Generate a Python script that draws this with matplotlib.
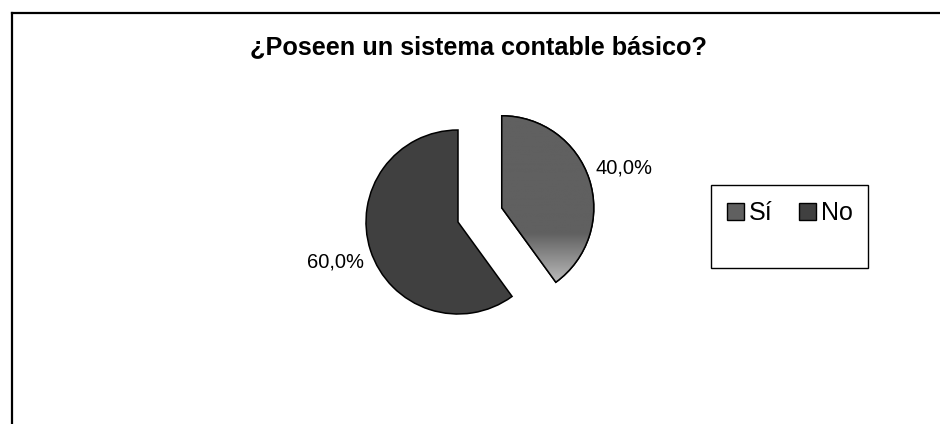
import numpy as np
import matplotlib
matplotlib.use("Agg")
import matplotlib.pyplot as plt
from matplotlib.colors import LinearSegmentedColormap
from matplotlib.lines import Line2D
from matplotlib.patches import Rectangle, Wedge

plt.rcParams['font.family'] = ['Liberation Sans', 'DejaVu Sans']

# Data
title = "¿Poseen un sistema contable básico?"
categories = ["Sí", "No"]
values = [40.0, 60.0]
colors = ["#606060", "#404040"]

W, H = 940, 424
fig = plt.figure(figsize=(W / 100, H / 100), dpi=100)
fig.patch.set_facecolor("white")

# Overlay axes in pixel coordinates (y grows downward)
ov = fig.add_axes([0, 0, 1, 1])
ov.set_xlim(0, W)
ov.set_ylim(H, 0)
ov.axis("off")

# Pie axes: unit radius, scaled to pixels
cx, cy, r = 458, 222, 92
ax = fig.add_axes([0, 0, 1, 1])

wedges, texts, autotexts = ax.pie(
    values, colors=colors, startangle=90, counterclock=False,
    explode=[0.5, 0.0], radius=1.0, center=(0, 0), frame=False,
    autopct=lambda p: f"{p:.1f}%".replace(".", ","), pctdistance=1.4,
    wedgeprops=dict(edgecolor="black", linewidth=1.1),
    textprops=dict(fontsize=14.5, color="black"),
)
ax.set_xlim(-cx / r, (W - cx) / r)
ax.set_ylim(-(H - cy) / r, cy / r)
ax.set_aspect("auto")
ax.axis("off")

# Vertical gradient shading at the bottom of the "Sí" slice
grad = LinearSegmentedColormap.from_list(
    "shade", [(0.0, "#606060"), (0.68, "#606060"), (1.0, "#c8c8c8")])
bb_top, bb_bot = (cy - 112) / r, (cy - 290) / r
img = ax.imshow(np.linspace(0, 1, 256).reshape(-1, 1), cmap=grad,
                extent=(-0.2, 2.0, bb_bot, bb_top), origin="upper",
                aspect="auto", zorder=2)
img.set_clip_path(wedges[0])
wedges[0].set_zorder(1)
# outline drawn above the gradient
w0 = wedges[0]
ax.add_patch(Wedge(w0.center, w0.r, w0.theta1, w0.theta2, facecolor="none",
                   edgecolor="black", linewidth=1.1, zorder=3))

# Chart border (top and left edges visible)
ov.add_line(Line2D([11.5, W + 5], [12.5, 12.5], color="black", lw=1.6))
ov.add_line(Line2D([11.5, 11.5], [12.5, H + 5], color="black", lw=1.6))

# Title
ov.text(478, 47, title, ha="center", va="center", fontsize=18.2,
        fontweight="bold", color="black")

# Legend box
ov.add_patch(Rectangle((710.5, 184.5), 157, 83, facecolor="white",
                       edgecolor="black", lw=1.0, zorder=2))
leg = fig.legend(wedges, categories, loc="center",
                 bbox_to_anchor=(790 / W, 1 - 213 / H), ncol=2, frameon=False,
                 fontsize=18, handlelength=0.68, handleheight=0.68,
                 handletextpad=0.2, columnspacing=1.05, borderpad=0)
for h in leg.legend_handles:
    h.set_edgecolor("black")
    h.set_linewidth(1.0)

fig.savefig("out.png", dpi=100, facecolor="white")
